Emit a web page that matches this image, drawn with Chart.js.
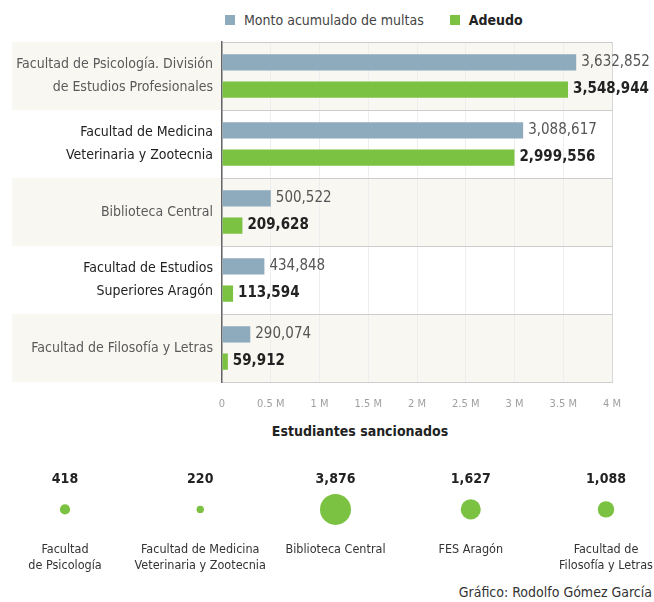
<!DOCTYPE html>
<html>
<head>
<meta charset="utf-8">
<script src="https://cdn.jsdelivr.net/npm/chart.js@4.4.1/dist/chart.umd.min.js"></script>
<style>
  body { margin: 0; background: #fff; width: 654px; height: 602px; position: relative; overflow: hidden;
         font-family: "Liberation Sans Narrow", "DejaVu Sans Condensed", "Roboto", sans-serif; color: #333; }
  #bars { position: absolute; left: 0; top: 0; }
  #bubbles { position: absolute; left: 0; top: 440px; }
  .legend { position: absolute; top: 12px; left: 225px; font-size: 14px; color: #444; display: flex; align-items: center; }
  .legend span.sw { display: inline-block; width: 10px; height: 10px; margin-right: 9px; }
  .legend .item { display: flex; align-items: center; margin-right: 26px; }
  .subtitle { position: absolute; top: 423px; left: 0; width: 720px; text-align: center; font-weight: bold; font-size: 14px; color: #222; }
  .credit { position: absolute; top: 584px; right: 2px; font-size: 14px; color: #333; }
</style>
</head>
<body>
<div class="legend">
  <div class="item"><span class="sw" style="background:#8eaabd"></span>Monto acumulado de multas</div>
  <div class="item" style="font-weight:bold;color:#222"><span class="sw" style="background:#7cc242"></span>Adeudo</div>
</div>
<canvas id="bars" width="654" height="420"></canvas>
<div class="subtitle">Estudiantes sancionados</div>
<canvas id="bubbles" width="654" height="142"></canvas>
<div class="credit">Gráfico: Rodolfo Gómez García</div>

<script>
const FONT = '"Liberation Sans Narrow", "DejaVu Sans Condensed", "Roboto", sans-serif';

// montos por dependencia
const dependencias = [
    ['Facultad de Psicología. División', 'de Estudios Profesionales'],
    ['Facultad de Medicina', 'Veterinaria y Zootecnia'],
    'Biblioteca Central',
    ['Facultad de Estudios', 'Superiores Aragón'],
    'Facultad de Filosofía y Letras'
];
const montoMultas = [3632852, 3088617, 500522, 434848, 290074];
const adeudo = [3548944, 2999556, 209628, 113594, 59912];

// estudiantes sancionados
const nombresCortos = [
    ['Facultad', 'de Psicología'],
    ['Facultad de Medicina', 'Veterinaria y Zootecnia'],
    'Biblioteca Central',
    'FES Aragón',
    ['Facultad de', 'Filosofía y Letras']
];
const sancionados = [418, 220, 3876, 1627, 1088];

const fmt = v => v.toLocaleString('en-US');

const bandas = {
    id: 'bandas',
    beforeDraw(chart) {
        const { ctx, chartArea, scales } = chart;
        const y = scales.y;
        const paso = (y.getPixelForValue(1) - y.getPixelForValue(0));
        ctx.save();
        ctx.fillStyle = '#f9f7f2';
        dependencias.forEach((d, i) => {
            if (i % 2 !== 0) return;
            const c = y.getPixelForValue(i);
            ctx.fillRect(12, c - paso / 2, chartArea.right - 12, paso);
        });
        ctx.restore();
    }
};

const etiquetas = {
    id: 'etiquetas',
    afterDatasetsDraw(chart) {
        const ctx = chart.ctx;
        ctx.save();
        ctx.textBaseline = 'middle';
        ctx.textAlign = 'left';
        chart.data.datasets.forEach((ds, di) => {
            const meta = chart.getDatasetMeta(di);
            ctx.font = (di === 1 ? 'bold ' : '') + '15px ' + FONT;
            ctx.fillStyle = di === 1 ? '#222' : '#555';
            meta.data.forEach((bar, i) => {
                ctx.fillText(fmt(ds.data[i]), bar.x + 5, bar.y);
            });
        });
        ctx.restore();
    }
};

new Chart(document.getElementById('bars'), {
    type: 'bar',
    data: {
        labels: dependencias,
        datasets: [
            { label: 'Monto acumulado de multas', data: montoMultas, backgroundColor: '#8eaabd', barPercentage: 0.6, categoryPercentage: 0.8 },
            { label: 'Adeudo', data: adeudo, backgroundColor: '#7cc242', barPercentage: 0.6, categoryPercentage: 0.8 }
        ]
    },
    options: {
        indexAxis: 'y',
        responsive: false,
        animation: false,
        layout: { padding: { top: 42, right: 42, left: 0, bottom: 0 } },
        plugins: { legend: { display: false }, tooltip: { enabled: false } },
        scales: {
            x: {
                min: 0,
                max: 4000000,
                ticks: {
                    stepSize: 500000,
                    padding: 16,
                    color: '#a0a0a0',
                    font: { family: FONT, size: 11 },
                    callback: v => v === 0 ? '0' : (v / 1e6) + ' M'
                },
                grid: { color: ctx => ctx.tick && ctx.tick.value === 4000000 ? '#d8d8d8' : '#eeeeee', drawTicks: false },
                border: { color: '#cfcfcf' },
                afterFit: s => { s.height = 38; }
            },
            y: {
                ticks: {
                    padding: 9,
                    color: ctx => ctx.index % 2 ? '#222' : '#5a5a5a',
                    font: { family: FONT, size: 14, lineHeight: 1.6 }
                },
                grid: { color: '#cccccc', drawTicks: false },
                border: { color: '#666', width: 1.5 },
                afterFit: s => { s.width = 222; }
            }
        }
    },
    plugins: [bandas, etiquetas]
});

// sin relleno automatico para que los circulos queden donde van
const sinRelleno = s => { s.paddingLeft = 0; s.paddingRight = 0; };

const rMax = 15.5;
new Chart(document.getElementById('bubbles'), {
    type: 'bubble',
    data: {
        datasets: [{
            data: sancionados.map((v, i) => ({ x: i, y: 0, r: rMax * Math.sqrt(v / Math.max(...sancionados)) })),
            backgroundColor: '#7cc242',
            borderWidth: 0,
            clip: false
        }]
    },
    options: {
        responsive: false,
        animation: false,
        layout: { padding: { top: 28, left: 65, right: 48, bottom: 10 } },
        plugins: { legend: { display: false }, tooltip: { enabled: false } },
        scales: {
            x: {
                type: 'linear', min: 0, max: 4, position: 'bottom',
                grid: { display: false }, border: { display: false },
                ticks: {
                    stepSize: 1, padding: 14, maxRotation: 0, autoSkip: false,
                    color: '#333', font: { family: FONT, size: 12.5, lineHeight: 1.28 },
                    callback: v => nombresCortos[v]
                },
                afterFit: sinRelleno
            },
            xTop: {
                type: 'linear', min: 0, max: 4, position: 'top',
                grid: { display: false }, border: { display: false },
                ticks: {
                    stepSize: 1, padding: 3, maxRotation: 0, autoSkip: false,
                    color: '#222', font: { family: FONT, size: 14, weight: 'bold' },
                    callback: v => fmt(sancionados[v])
                },
                afterFit: sinRelleno
            },
            y: { display: false, min: -1, max: 1 }
        }
    }
});
</script>
</body>
</html>
